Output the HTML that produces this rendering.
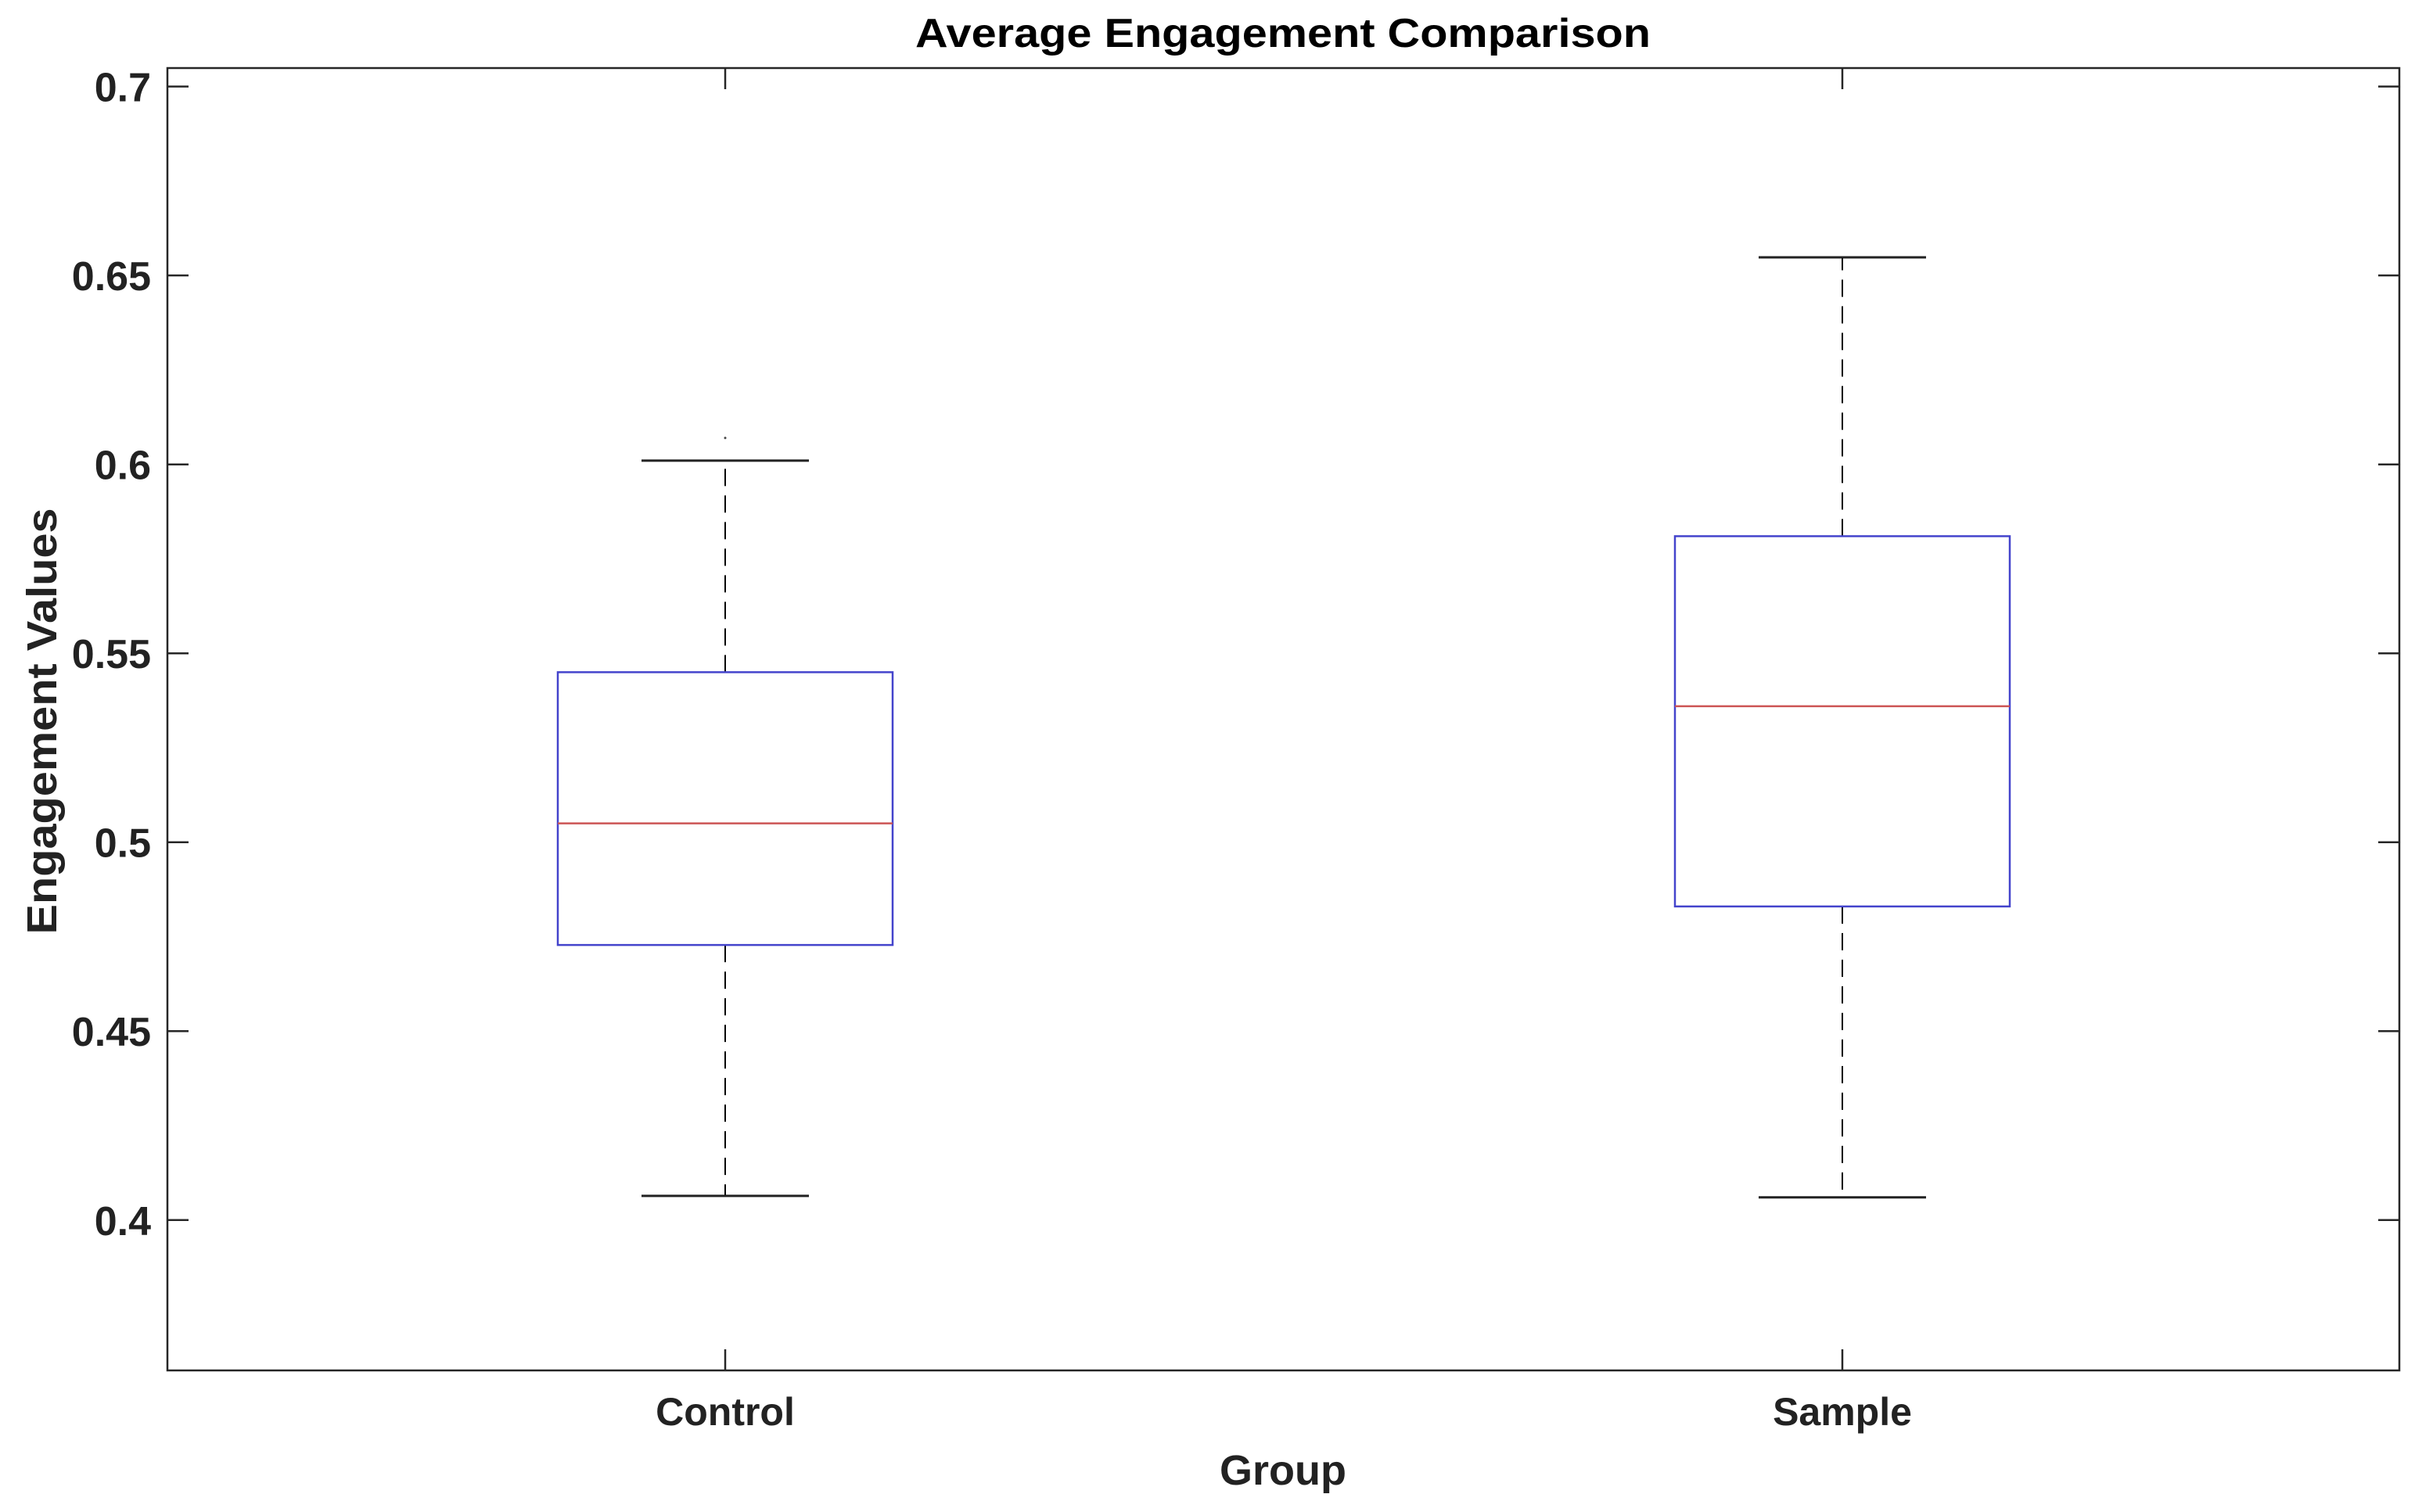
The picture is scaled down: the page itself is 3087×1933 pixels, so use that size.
<!DOCTYPE html>
<html><head><meta charset="utf-8"><style>
html,body{margin:0;padding:0;background:#fff;}
svg{display:block;}
text{font-family:"Liberation Sans",Arial,sans-serif;font-weight:bold;fill:#222;}
</style></head><body>
<svg id="chart" width="3087" height="1933" viewBox="0 0 3087 1933" xmlns="http://www.w3.org/2000/svg">
<rect x="0" y="0" width="3087" height="1933" fill="#fff"/>
<text x="1640" y="60" font-size="52" text-anchor="middle" textLength="940" lengthAdjust="spacingAndGlyphs" style="fill:#000">Average Engagement Comparison</text>
<text x="1640" y="1898" font-size="54" text-anchor="middle">Group</text>
<text transform="translate(72,922) rotate(-90)" font-size="54" text-anchor="middle" textLength="545" lengthAdjust="spacingAndGlyphs">Engagement Values</text>
<g id="plot"></g>
</svg>
<script>
const categories = ["Control", "Sample"];
const whiskerLow = [0.4064, 0.406];
const q1 = [0.4728, 0.483];
const median = [0.505, 0.536];
const q3 = [0.545, 0.581];
const whiskerHigh = [0.601, 0.6548];
const outliers = [[0.607], []];
const yTicks = [0.4, 0.45, 0.5, 0.55, 0.6, 0.65, 0.7];
const yTickLabels = ["0.4", "0.45", "0.5", "0.55", "0.6", "0.65", "0.7"];

const L = 214, R = 3067, T = 87, B = 1752;
const yMin = 0.3602, yMax = 0.7049;
function yS(v){ return B - (v - yMin) / (yMax - yMin) * (B - T); }
const xPos = [927, 2355];
function xS(i){ return xPos[i]; }
const NS = "http://www.w3.org/2000/svg";
const g = document.getElementById('plot');
function mk(tag, attrs, parent){
  const e = document.createElementNS(NS, tag);
  for (const k in attrs) e.setAttribute(k, attrs[k]);
  (parent || g).appendChild(e);
  return e;
}
let fr = mk('rect', {x:L, y:T, width:R-L, height:B-T, fill:'none', stroke:'#262626', 'stroke-width':2.5});


yTicks.forEach((v, i) => {
  const y = yS(v);
  let t1 = mk('line', {x1:L, x2:L+27, y1:y, y2:y, stroke:'#262626', 'stroke-width':2.5});
  
  
  let t2 = mk('line', {x1:R-27, x2:R, y1:y, y2:y, stroke:'#262626', 'stroke-width':2.5});
  
  
  let lb = mk('text', {x:193, y:y+19, 'font-size':52, 'text-anchor':'end'});
  lb.textContent = yTickLabels[i];
  
  
});
const hw = 214, cw = 107;
categories.forEach((c, i) => {
  const x = xS(i);
  let tb = mk('line', {x1:x, x2:x, y1:B, y2:B-27, stroke:'#262626', 'stroke-width':2.5});
  
  
  let tt = mk('line', {x1:x, x2:x, y1:T, y2:T+27, stroke:'#262626', 'stroke-width':2.5});
  
  
  let lb = mk('text', {x:x, y:1822, 'font-size':50, 'text-anchor':'middle'});
  lb.textContent = c;
  
  
  let wu = mk('line', {x1:x, x2:x, y1:yS(q3[i]), y2:yS(whiskerHigh[i]), stroke:'#000', 'stroke-width':2, 'stroke-dasharray':'22 12'});
  
  
  let wl = mk('line', {x1:x, x2:x, y1:yS(q1[i]), y2:yS(whiskerLow[i]), stroke:'#000', 'stroke-width':2, 'stroke-dasharray':'22 12'});
  
  
  let cu = mk('line', {x1:x-cw, x2:x+cw, y1:yS(whiskerHigh[i]), y2:yS(whiskerHigh[i]), stroke:'#222', 'stroke-width':3});
  
  
  let cl = mk('line', {x1:x-cw, x2:x+cw, y1:yS(whiskerLow[i]), y2:yS(whiskerLow[i]), stroke:'#222', 'stroke-width':3});
  
  
  let bx = mk('rect', {x:x-hw, y:yS(q3[i]), width:2*hw, height:yS(q1[i])-yS(q3[i]), fill:'none', stroke:'#4444cc', 'stroke-width':2.5});
  
  
  let md = mk('line', {x1:x-hw, x2:x+hw, y1:yS(median[i]), y2:yS(median[i]), stroke:'#cc5555', 'stroke-width':2.5});
  
  
  outliers[i].forEach(v => {
    let o = mk('circle', {cx:x, cy:yS(v), r:1.5, fill:'#444'});
    
    
  });
});
</script>
</body></html>
